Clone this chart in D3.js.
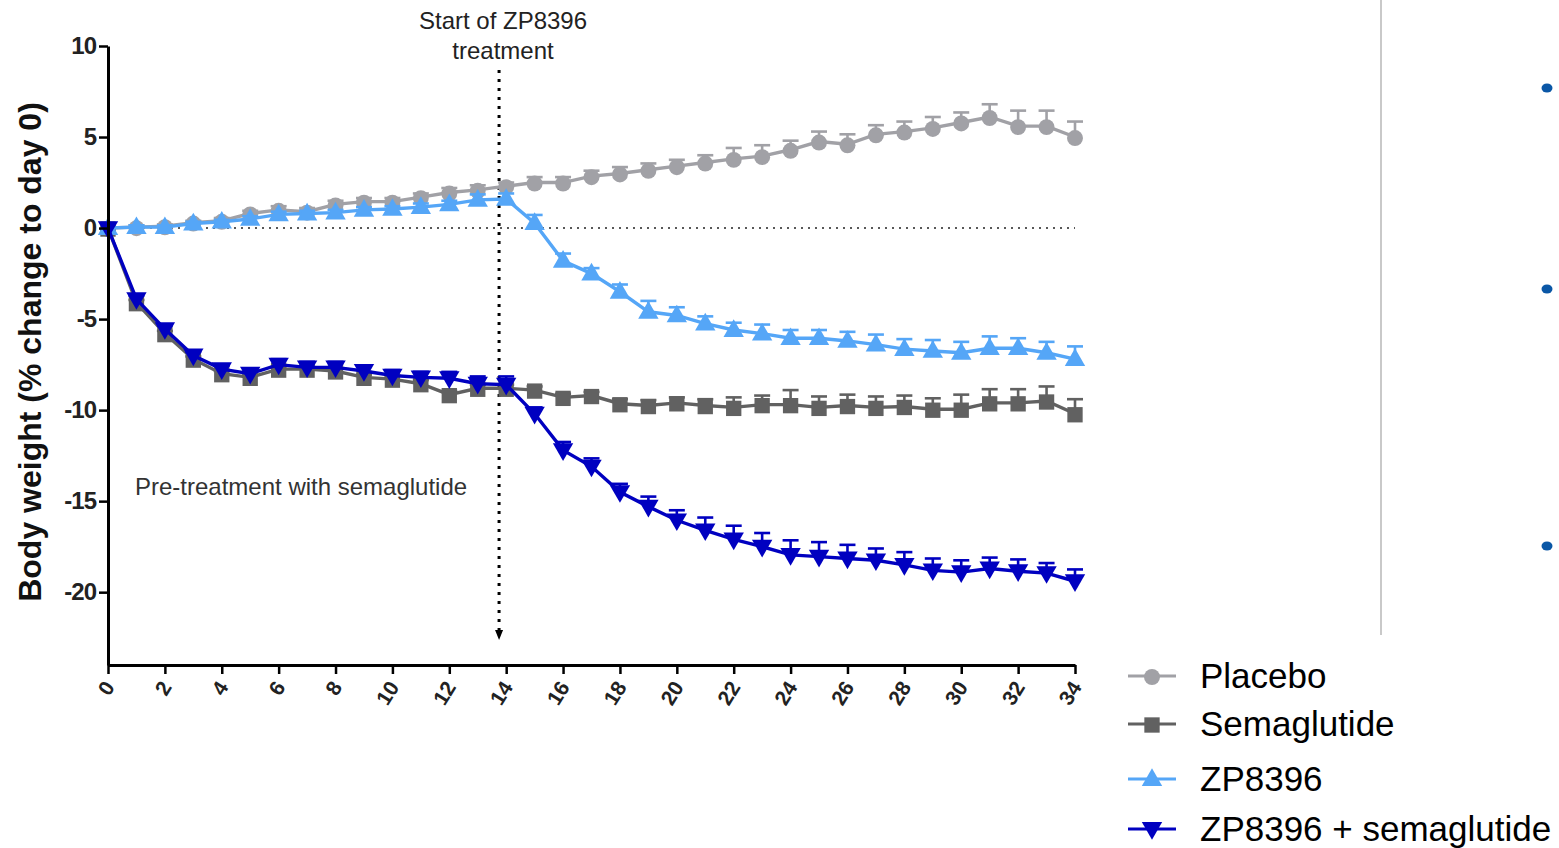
<!DOCTYPE html>
<html>
<head>
<meta charset="utf-8">
<script src="https://cdn.jsdelivr.net/npm/d3@7"></script>
<style>
  html, body { margin: 0; padding: 0; background: #fff; }
  svg { display: block; }
  text { font-family: Arial, "Liberation Sans", sans-serif; }
</style>
</head>
<body>
<svg id="chart" width="1559" height="848"></svg>
<script>
// ---------- data ----------
const days = [0,1,2,3,4,5,6,7,8,9,10,11,12,13,14,15,16,17,18,19,20,21,22,23,24,25,26,27,28,29,30,31,32,33,34];
const xTicks = [0,2,4,6,8,10,12,14,16,18,20,22,24,26,28,30,32,34];
const yTicks = [10,5,0,-5,-10,-15,-20];

const placebo    = [0,0.05,0.1,0.3,0.4,0.8,1.0,0.9,1.3,1.45,1.45,1.7,1.95,2.1,2.3,2.5,2.5,2.85,3.0,3.2,3.4,3.6,3.8,3.95,4.3,4.75,4.6,5.15,5.3,5.5,5.8,6.1,5.6,5.6,5.0];
const placeboErr = [0,0.1,0.1,0.1,0.15,0.15,0.2,0.2,0.2,0.2,0.2,0.2,0.25,0.25,0.2,0.3,0.3,0.3,0.35,0.35,0.35,0.4,0.6,0.6,0.5,0.55,0.55,0.5,0.55,0.6,0.55,0.7,0.85,0.85,0.85];

const semaglutide    = [0,-4.1,-5.8,-7.2,-8.0,-8.2,-7.75,-7.75,-7.85,-8.2,-8.3,-8.55,-9.15,-8.8,-8.8,-8.9,-9.3,-9.2,-9.65,-9.75,-9.6,-9.75,-9.85,-9.7,-9.7,-9.85,-9.75,-9.85,-9.8,-9.95,-9.95,-9.6,-9.6,-9.5,-10.2];
const semaglutideErr = [0,0.15,0.15,0.15,0.15,0.15,0.15,0.15,0.15,0.15,0.2,0.2,0.2,0.2,0.2,0.2,0.2,0.2,0.25,0.3,0.3,0.35,0.55,0.5,0.8,0.6,0.6,0.6,0.6,0.6,0.8,0.75,0.75,0.8,0.8];

const zp8396    = [0,0.05,0.05,0.25,0.35,0.5,0.75,0.8,0.85,1.0,1.05,1.15,1.3,1.55,1.6,0.27,-1.8,-2.5,-3.5,-4.6,-4.8,-5.25,-5.6,-5.8,-6.05,-6.05,-6.2,-6.4,-6.65,-6.75,-6.85,-6.6,-6.6,-6.85,-7.2];
const zp8396Err = [0,0.1,0.1,0.1,0.1,0.15,0.15,0.15,0.15,0.15,0.15,0.2,0.2,0.3,0.3,0.45,0.4,0.3,0.4,0.6,0.45,0.4,0.4,0.5,0.45,0.45,0.5,0.55,0.55,0.6,0.6,0.65,0.55,0.6,0.7];

const combo    = [0,-3.9,-5.55,-7.0,-7.75,-8.0,-7.5,-7.65,-7.65,-7.85,-8.1,-8.2,-8.25,-8.55,-8.6,-10.2,-12.2,-13.1,-14.5,-15.3,-16.05,-16.6,-17.1,-17.5,-17.95,-18.05,-18.15,-18.25,-18.5,-18.8,-18.9,-18.7,-18.85,-18.95,-19.4];
const comboErr = [0,0.2,0.2,0.2,0.2,0.25,0.3,0.3,0.3,0.3,0.3,0.3,0.35,0.4,0.45,0.35,0.45,0.45,0.45,0.55,0.55,0.7,0.75,0.75,0.8,0.8,0.75,0.65,0.7,0.65,0.65,0.6,0.65,0.55,0.65];

const seriesNames = ["Placebo", "Semaglutide", "ZP8396", "ZP8396 + semaglutide"];
const treatmentStartDay = 13.75;

// ---------- styling ----------
const series = [
  {name: seriesNames[0], values: placebo,     err: placeboErr,     color: "#a1a1a6", symbol: d3.symbolCircle,   size: 200, rot: 0},
  {name: seriesNames[1], values: semaglutide, err: semaglutideErr, color: "#616161", symbol: d3.symbolSquare,   size: 235, rot: 0},
  {name: seriesNames[2], values: zp8396,      err: zp8396Err,      color: "#55a6f7", symbol: d3.symbolTriangle, size: 180, rot: 0},
  {name: seriesNames[3], values: combo,       err: comboErr,       color: "#0000c0", symbol: d3.symbolTriangle, size: 180, rot: 180}
];

const svg = d3.select("#chart");
const x = d3.scaleLinear().domain([0, 34]).range([108, 1075]);
const y = d3.scaleLinear().domain([-24, 10]).range([665, 46]);

// right-side decorations
svg.append("line").attr("x1", 1381).attr("x2", 1381).attr("y1", 0).attr("y2", 635)
  .attr("stroke", "#c9c9c9").attr("stroke-width", 2);
[88, 289, 546].forEach(cy => {
  svg.append("ellipse").attr("cx", 1547).attr("cy", cy).attr("rx", 5.5).attr("ry", 4.5).attr("fill", "#0a57a6");
});

// zero reference line
svg.append("line").attr("x1", x(0)).attr("x2", x(34)).attr("y1", y(0)).attr("y2", y(0))
  .attr("stroke", "#222").attr("stroke-width", 1.6).attr("stroke-dasharray", "2,5");

// treatment start arrow
svg.append("line").attr("x1", x(treatmentStartDay)).attr("x2", x(treatmentStartDay))
  .attr("y1", 70).attr("y2", 632)
  .attr("stroke", "#000").attr("stroke-width", 3).attr("stroke-dasharray", "3,6");
svg.append("path")
  .attr("d", `M${x(treatmentStartDay)-4},630 L${x(treatmentStartDay)+4},630 L${x(treatmentStartDay)},640 Z`)
  .attr("fill", "#000");

svg.append("text").attr("x", 503).attr("y", 29).attr("text-anchor", "middle")
  .attr("font-size", 24).attr("fill", "#222").text("Start of ZP8396");
svg.append("text").attr("x", 503).attr("y", 59).attr("text-anchor", "middle")
  .attr("font-size", 24).attr("fill", "#222").text("treatment");
svg.append("text").attr("x", 135).attr("y", 495)
  .attr("font-size", 24).attr("fill", "#333").text("Pre-treatment with semaglutide");

// series
series.forEach(s => {
  const g = svg.append("g");
  const pts = days.map((d, i) => ({d, v: s.values[i], e: s.err[i]}));
  // error bars (upward)
  const eb = g.append("g").attr("stroke", s.color).attr("stroke-width", 2.6);
  pts.filter(p => p.e > 0).forEach(p => {
    eb.append("line").attr("x1", x(p.d)).attr("x2", x(p.d)).attr("y1", y(p.v)).attr("y2", y(p.v + p.e));
    eb.append("line").attr("x1", x(p.d) - 8).attr("x2", x(p.d) + 8).attr("y1", y(p.v + p.e)).attr("y2", y(p.v + p.e));
  });
  g.append("path").datum(pts)
    .attr("fill", "none").attr("stroke", s.color).attr("stroke-width", 3.4)
    .attr("d", d3.line().x(p => x(p.d)).y(p => y(p.v)));
  g.selectAll("path.m").data(pts).enter().append("path").attr("class", "m")
    .attr("d", d3.symbol().type(s.symbol).size(s.size))
    .attr("transform", p => `translate(${x(p.d)},${y(p.v) + (s.rot ? -1 : 1)}) rotate(${s.rot})`)
    .attr("fill", s.color);
});

// axes
const yAxis = svg.append("g").attr("transform", `translate(${x(0)},0)`)
  .call(d3.axisLeft(y).tickValues(yTicks).tickFormat(d => String(d)).tickSize(9).tickSizeOuter(0).tickPadding(3));
yAxis.select(".domain").attr("stroke", "#000").attr("stroke-width", 3);
yAxis.selectAll(".tick line").attr("stroke", "#000").attr("stroke-width", 2.5);
yAxis.selectAll(".tick text").attr("font-size", 24).attr("font-weight", "bold")
  .attr("fill", "#222").attr("font-family", "Arial, 'Liberation Sans', sans-serif").attr("letter-spacing", -1);

const xAxis = svg.append("g").attr("transform", `translate(0,${y(-24)})`)
  .call(d3.axisBottom(x).tickValues(xTicks).tickFormat(d => String(d)).tickSize(9).tickSizeOuter(0));
xAxis.select(".domain").attr("stroke", "#000").attr("stroke-width", 3);
xAxis.selectAll(".tick line").attr("stroke", "#000").attr("stroke-width", 2.5);
xAxis.selectAll(".tick text")
  .attr("font-size", 21).attr("font-weight", "bold").attr("fill", "#222")
  .attr("font-family", "Arial, 'Liberation Sans', sans-serif")
  .attr("text-anchor", "end").attr("dy", 0).attr("y", 0)
  .attr("transform", "translate(7,22) rotate(-58)");

// y-axis title
svg.append("text").attr("transform", "translate(41,352) rotate(-90)")
  .attr("text-anchor", "middle").attr("font-size", 32).attr("font-weight", "bold").attr("fill", "#111")
  .text("Body weight (% change to day 0)");

// legend
const legendRows = [676, 724, 779, 829];
series.forEach((s, i) => {
  const cy = legendRows[i];
  const lg = svg.append("g");
  lg.append("line").attr("x1", 1128).attr("x2", 1176).attr("y1", cy).attr("y2", cy)
    .attr("stroke", s.color).attr("stroke-width", 3.2);
  lg.append("path").attr("d", d3.symbol().type(s.symbol).size(s.size))
    .attr("transform", `translate(1152,${cy + (s.rot ? -1 : 1)}) rotate(${s.rot})`).attr("fill", s.color);
  lg.append("text").attr("x", 1200).attr("y", cy + 12).attr("font-size", 35).attr("fill", "#000").text(s.name);
});
</script>
</body>
</html>
